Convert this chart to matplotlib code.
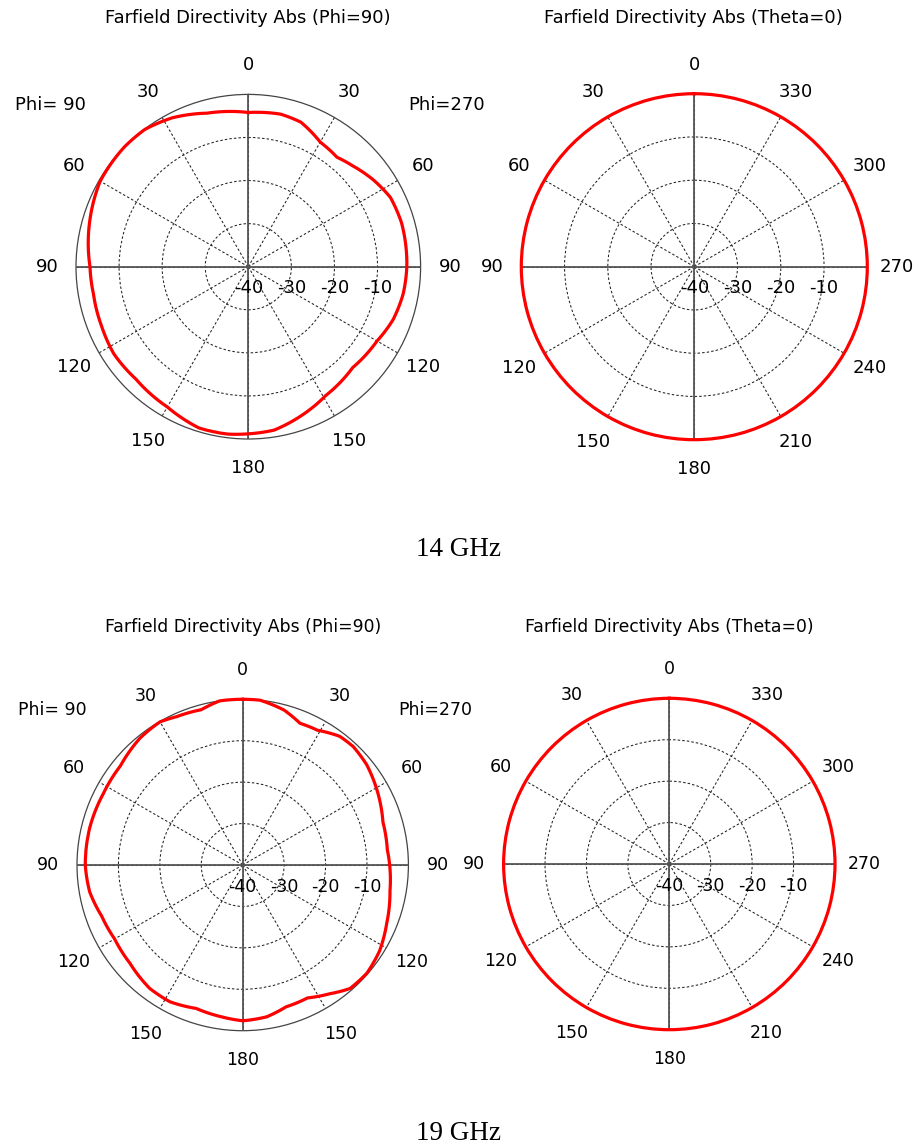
import numpy as np
import matplotlib.pyplot as plt

# Phi=90 cuts: theta measured clockwise from the top (right half = Phi=270 side)
ang_14 = [0, 12, 20, 30, 39, 46, 55, 64, 74, 90, 100, 110, 120, 134, 149, 161, 171, 180,
          187, 197, 210, 225, 237, 248, 260, 270, 286, 300, 314, 323, 333, 345, 360]
dir_14 = [-4.2, -3.8, -4.3, -6.6, -7.3, -6.3, -4.7, -3.3, -3.0, -3.2, -3.5, -4.2, -5.5, -6.3, -5.1, -3.2, -1.6, -1.2,
          -0.85, -0.85, -2.4, -3.1, -2.8, -3.25, -3.5, -3.25, -1.7, -0.3, 0.0, -0.1, -1.2, -3.1, -4.2]

ang_19 = [0, 6, 15, 22, 29, 37, 43, 51, 61, 73, 84, 100, 112, 122, 131, 139, 146, 154, 163, 171, 180,
          188, 198, 208, 217, 229, 240, 250, 260, 270, 284, 297, 309, 321, 330, 336, 345, 352, 360]
dir_19 = [0.0, 0.0, -1.3, -3.1, -2.8, -1.1, -0.9, -1.5, -2.9, -4.6, -4.9, -3.9, -2.5, -1.0, -0.25, -0.5, -2.5, -4.3, -4.2, -2.9, -2.4,
          -3.0, -3.6, -2.6, -2.7, -3.9, -4.3, -3.8, -2.5, -2.0, -2.0, -2.2, -2.0, -0.6, -0.1, -0.8, -1.2, 0.0, 0.0]

# Theta=0 cuts: phi counter-clockwise from the top
phi_cut = [0, 30, 60, 90, 120, 150, 180, 210, 240, 270, 300, 330, 360]
dir_14_t0 = [0.0, 0.0, 0.0, 0.0, 0.0, 0.0, 0.0, 0.0, 0.0, 0.0, 0.0, 0.0, 0.0]
dir_19_t0 = [0.0, 0.0, 0.0, 0.0, 0.0, 0.0, 0.0, 0.0, 0.0, 0.0, 0.0, 0.0, 0.0]

lab_phi = ['0', '30', '60', '90', '120', '150', '180', '150', '120', '90', '60', '30']
lab_theta = ['0', '30', '60', '90', '120', '150', '180', '210', '240', '270', '300', '330']
r_ticks = [-40, -30, -20, -10]

W, H = 920, 1146
fig = plt.figure(figsize=(W / 100, H / 100), dpi=100)


def panel(cx, cy, R, ang, vals, clockwise, labels, fs):
    ax = fig.add_axes([(cx - R) / W, (H - cy - R) / H, 2 * R / W, 2 * R / H], projection='polar')
    ax.set_theta_zero_location('N')
    ax.set_theta_direction(-1 if clockwise else 1)
    ax.set_ylim(-40, 0)
    ax.set_yticks([-30, -20, -10])
    ax.set_yticklabels([])
    ax.set_xticks(np.deg2rad(np.arange(0, 360, 30)))
    ax.set_xticklabels(labels, fontsize=fs)
    ax.tick_params(axis='x', pad=14, length=0)
    ax.grid(True, color='#222222', ls=(0, (2.4, 2.0)), lw=0.75)
    for a in [0, 90, 180, 270]:
        ax.axvline(np.deg2rad(a), color='#555555', lw=1.3, zorder=3)
    ax.spines['polar'].set_color('#444444')
    ax.spines['polar'].set_linewidth(0.9)
    line, = ax.plot(np.deg2rad(ang), vals, color='#ff0000', lw=2.3, clip_on=False, zorder=6)
    # draw segments as arcs in polar space, like the gridlines
    line.get_path()._interpolation_steps = 40
    right = 90 if clockwise else 270
    for v in r_ticks:
        ax.annotate(str(v), (np.deg2rad(right), v), xytext=(0, -15.5), textcoords='offset points',
                    ha='center', va='center', fontsize=fs, zorder=7)
    return ax


panel(248.3, 266.7, 172.3, ang_14, dir_14, True, lab_phi, 13)
panel(694.3, 266.7, 173.0, phi_cut, dir_14_t0, False, lab_theta, 13)
panel(242.7, 865.0, 165.7, ang_19, dir_19, True, lab_phi, 12.5)
panel(669.3, 864.0, 165.7, phi_cut, dir_19_t0, False, lab_theta, 12.5)


def ftext(x, y, s, **kw):
    fig.text(x / W, 1 - y / H, s, ha='center', va='center', **kw)


ftext(248, 18, 'Farfield Directivity Abs (Phi=90)', fontsize=12.9)
ftext(693, 18, 'Farfield Directivity Abs (Theta=0)', fontsize=12.9)
ftext(50, 105, 'Phi= 90', fontsize=13)
ftext(447, 105, 'Phi=270', fontsize=13)
ftext(459, 549, '14 GHz', fontsize=19.5, family='Liberation Serif')

ftext(243, 627, 'Farfield Directivity Abs (Phi=90)', fontsize=12.4)
ftext(669, 627, 'Farfield Directivity Abs (Theta=0)', fontsize=12.4)
ftext(52, 710, 'Phi= 90', fontsize=12.5)
ftext(435, 710, 'Phi=270', fontsize=12.5)
ftext(459, 1133, '19 GHz', fontsize=19.5, family='Liberation Serif')

fig.savefig('out.png', dpi=100, facecolor='white')
